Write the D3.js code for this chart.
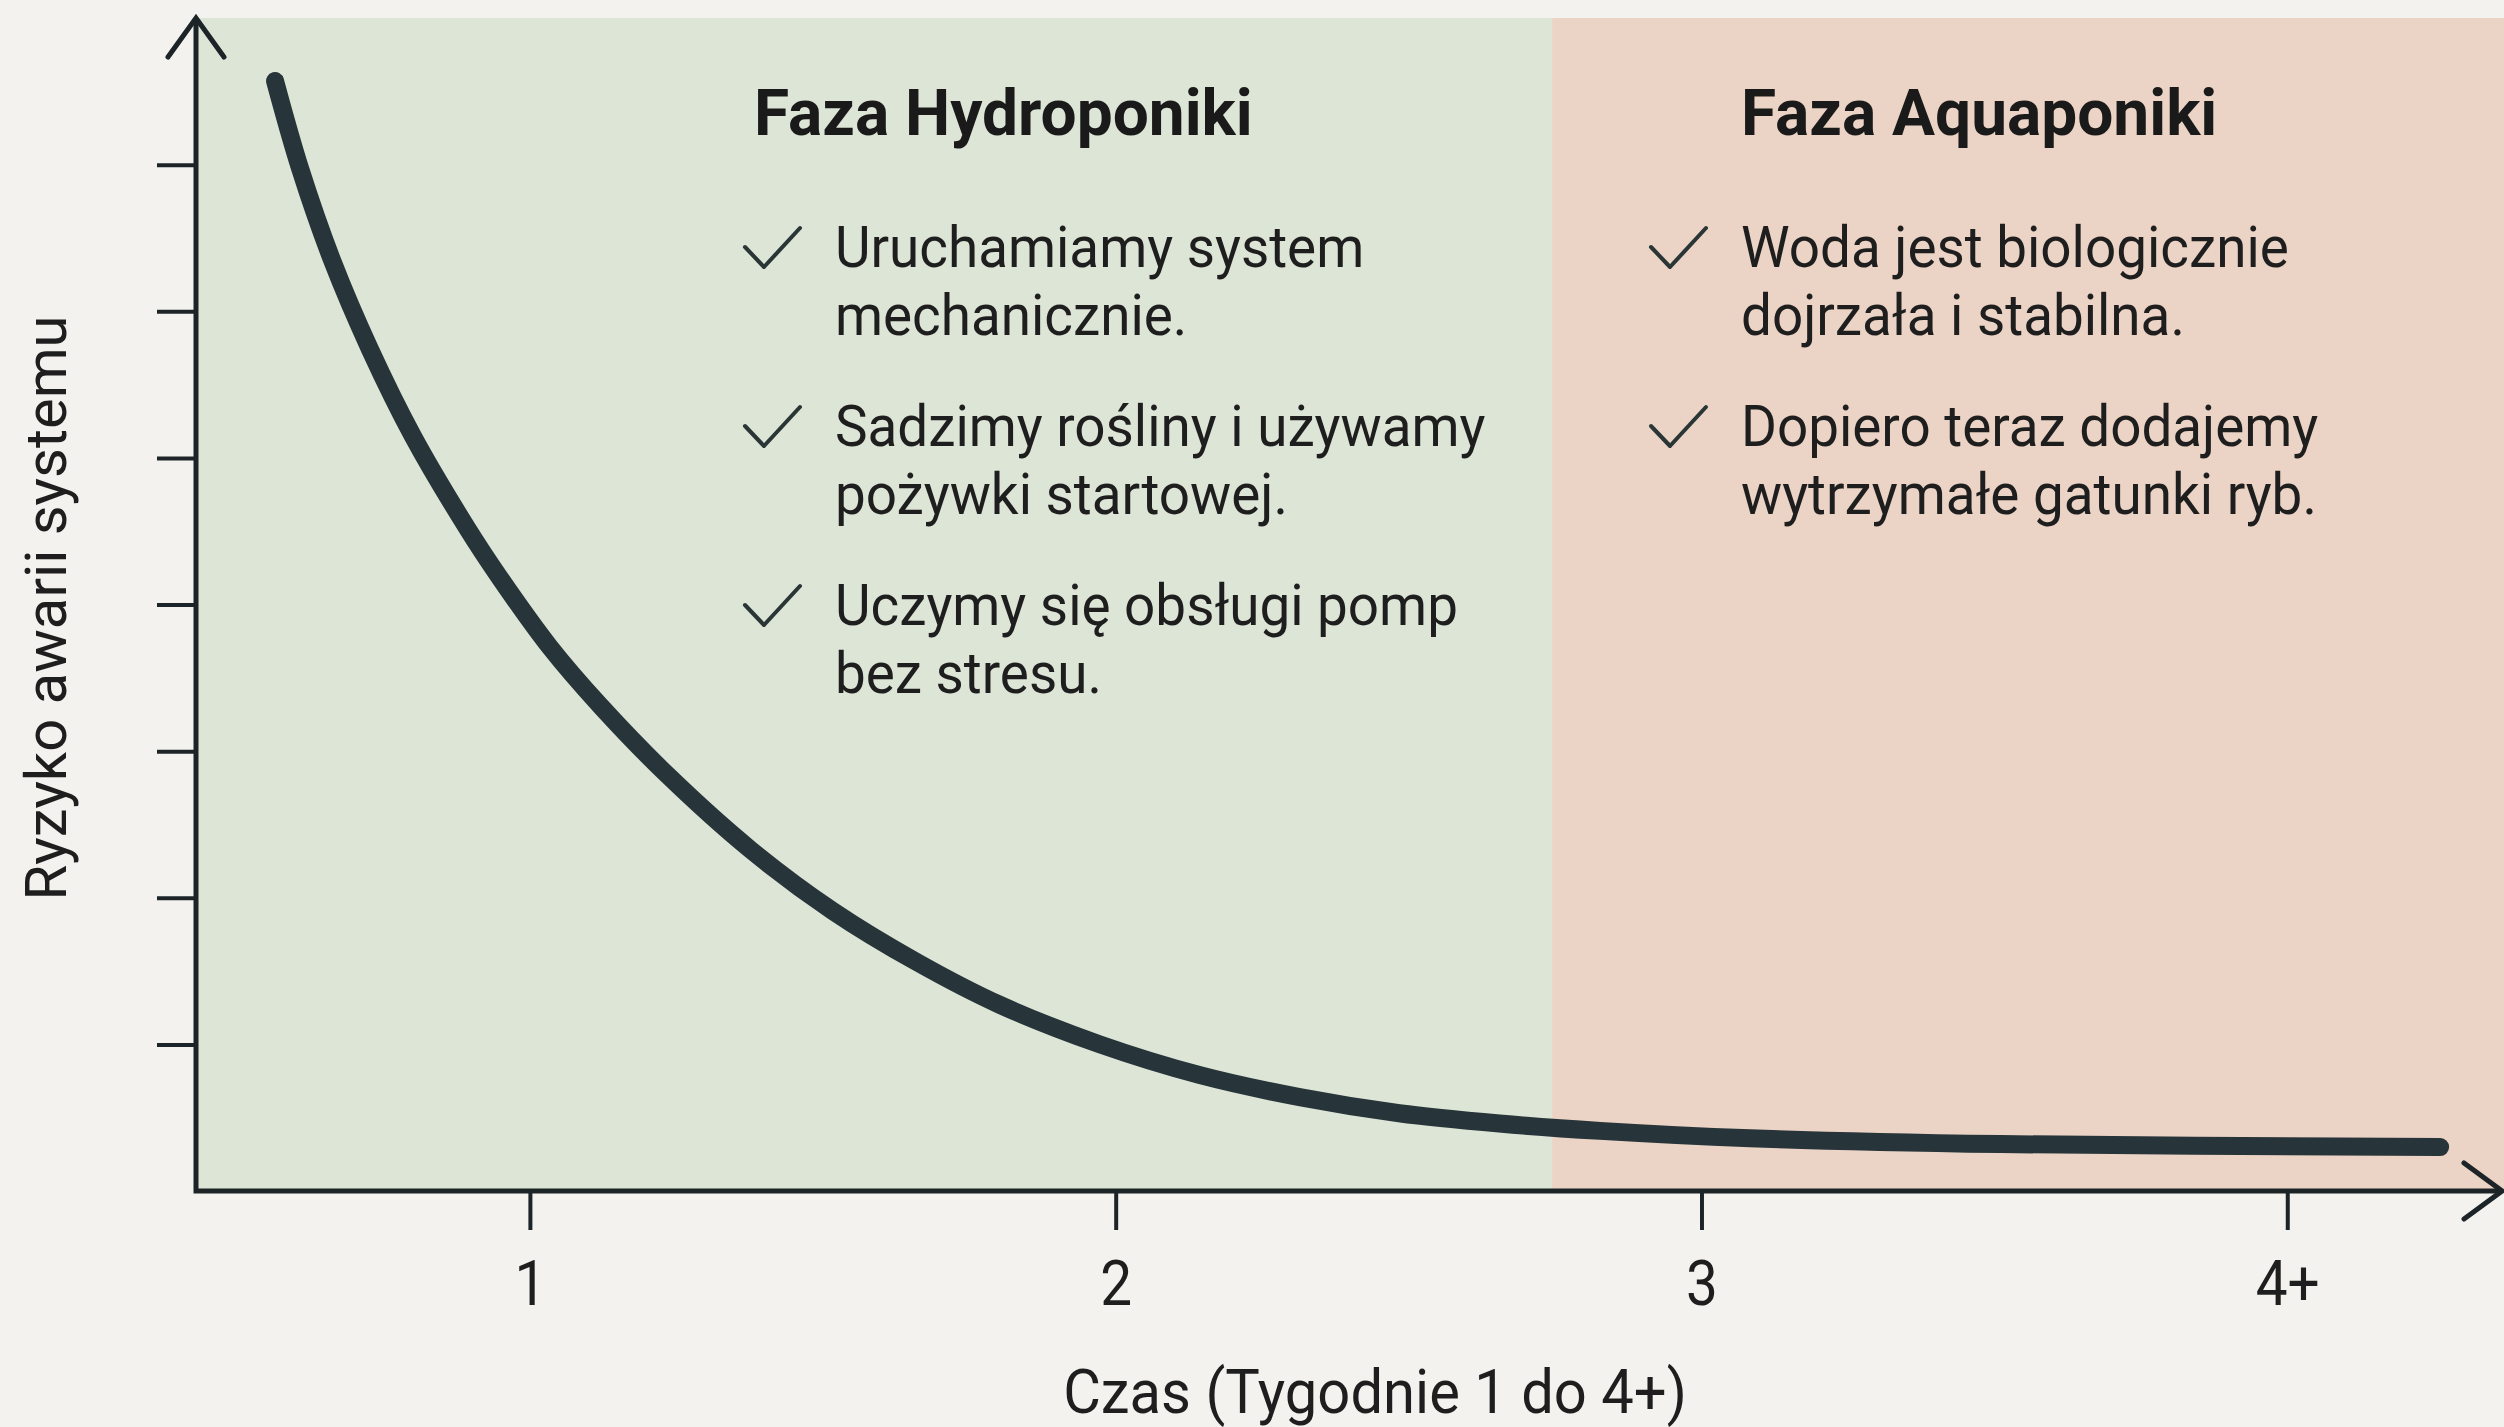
<!DOCTYPE html>
<html>
<head>
<meta charset="utf-8">
<script src="https://cdn.jsdelivr.net/npm/d3@7"></script>
<style>
  html, body { margin: 0; padding: 0; background: #f3f2ee; }
  svg { display: block; font-family: Roboto, "Noto Sans", sans-serif; }
</style>
</head>
<body>
<div id="chart"></div>
<script>
// Failure risk of a new system over the first weeks:
// hydroponic start-up phase, then the aquaponic phase once water is mature.

const weekTicks = [1, 2, 3, 4];
const weekLabels = ["1", "2", "3", "4+"];
const riskTicks = [1, 2, 3, 4, 5, 6, 7];

// curve (x in weeks, y in arbitrary risk units)
const curveWeeks = [0.565, 0.608, 0.664, 0.727, 0.800, 0.893, 0.949, 1.034, 1.120, 1.234, 1.376, 1.517,
                    1.661, 1.802, 1.973, 2.144, 2.314, 2.484, 2.655, 2.827, 3.083, 3.510, 4.261];
const curveRisk  = [7.57, 6.97, 6.33, 5.74, 5.15, 4.52, 4.18, 3.71, 3.31, 2.84, 2.33, 1.91,
                    1.56, 1.27, 1.00, 0.79, 0.64, 0.53, 0.46, 0.41, 0.36, 0.32, 0.30];

const phaseNames = ["Faza Hydroponiki", "Faza Aquaponiki"];
const phaseStart = [0.43, 2.745];
const phaseEnd   = [2.745, 4.37];
const phaseBullets = [
  [["Uruchamiamy system", "mechanicznie."],
   ["Sadzimy rośliny i używamy", "pożywki startowej."],
   ["Uczymy się obsługi pomp", "bez stresu."]],
  [["Woda jest biologicznie", "dojrzała i stabilna."],
   ["Dopiero teraz dodajemy", "wytrzymałe gatunki ryb."]]
];

const xTitle = "Czas (Tygodnie 1 do 4+)";
const yTitle = "Ryzyko awarii systemu";

// ---- layout ----
const width = 2504, height = 1427;
const phaseFill = ["#dde5d7", "#ebd3c5"];
const ink = "#1d2427";
const textInk = "#1e1e1e";
const lineInk = "#27343a";

// per-phase text anchors (heading x, check x, bullet text x)
const phaseText = [
  { head: 754, check: 745, text: 835 },
  { head: 1741, check: 1651, text: 1741 }
];
const headBaseline = 135;
const bulletBaseline0 = 267, bulletGap = 179, lineGap = 68;

const x = d3.scaleLinear().domain([0.43, 4.37]).range([196, 2504]);
const y = d3.scaleLinear().domain([0, 8]).range([1191, 18]);

const svg = d3.select("#chart").append("svg")
  .attr("width", width)
  .attr("height", height)
  .attr("viewBox", `0 0 ${width} ${height}`);

svg.append("rect").attr("width", width).attr("height", height).attr("fill", "#f3f2ee");

// phase panels
svg.selectAll(".phase")
  .data(phaseNames)
  .join("rect")
  .attr("class", "phase")
  .attr("x", (d, i) => x(phaseStart[i]))
  .attr("width", (d, i) => x(phaseEnd[i]) - x(phaseStart[i]))
  .attr("y", y(8))
  .attr("height", y(0) - y(8))
  .attr("fill", (d, i) => phaseFill[i]);

// phase headings + bullet lists
phaseNames.forEach((name, i) => {
  const pos = phaseText[i];
  svg.append("text")
    .attr("x", pos.head)
    .attr("y", headBaseline)
    .attr("font-size", 64)
    .attr("font-weight", 700)
    .attr("fill", "#1a1a1a")
    .text(name);

  phaseBullets[i].forEach((lines, j) => {
    const base = bulletBaseline0 + j * bulletGap;
    const cx = pos.check;
    svg.append("path")
      .attr("d", `M${cx},${base - 20} L${cx + 19},${base} L${cx + 55},${base - 39}`)
      .attr("fill", "none")
      .attr("stroke", "#2a3535")
      .attr("stroke-width", 4)
      .attr("stroke-linecap", "round")
      .attr("stroke-linejoin", "round");
    lines.forEach((ln, k) => {
      svg.append("text")
        .attr("transform", `translate(${pos.text},${base + k * lineGap}) scale(0.945,1)`)
        .attr("font-size", 58)
        .attr("fill", textInk)
        .text(ln);
    });
  });
});

// y ticks (no labels)
const yAxis = svg.append("g")
  .attr("transform", `translate(${x(0.43)},0)`)
  .call(d3.axisLeft(y).tickValues(riskTicks).tickSize(39).tickFormat(""));
yAxis.select(".domain").remove();
yAxis.selectAll(".tick line").attr("stroke", ink).attr("stroke-width", 4);

// x ticks
const xAxis = svg.append("g")
  .attr("transform", `translate(0,${y(0)})`)
  .call(d3.axisBottom(x).tickValues(weekTicks).tickSize(39).tickPadding(30)
    .tickFormat((d, i) => weekLabels[i]));
xAxis.select(".domain").remove();
xAxis.selectAll(".tick line").attr("stroke", ink).attr("stroke-width", 4);
xAxis.selectAll(".tick text")
  .attr("font-size", 63)
  .attr("font-family", "Roboto, 'Noto Sans', sans-serif")
  .attr("fill", textInk)
  .attr("transform", "scale(0.9,1)");

// axis lines with open arrow heads
const x0 = x(0.43), yb = y(0), yt = y(8), xr = 2502;
svg.append("path")
  .attr("d", `M${x0},${yt} V${yb} H${xr}`)
  .attr("fill", "none").attr("stroke", ink).attr("stroke-width", 5);
svg.append("path")
  .attr("d", `M${x0 - 28},${yt + 39} L${x0},${yt} L${x0 + 28},${yt + 39}`)
  .attr("fill", "none").attr("stroke", ink).attr("stroke-width", 5)
  .attr("stroke-linecap", "round");
svg.append("path")
  .attr("d", `M${xr - 38},${yb - 28} L${xr},${yb} L${xr - 38},${yb + 28}`)
  .attr("fill", "none").attr("stroke", ink).attr("stroke-width", 5)
  .attr("stroke-linecap", "round");

// risk curve
const line = d3.line()
  .x((d, i) => x(curveWeeks[i]))
  .y(d => y(d))
  .curve(d3.curveCatmullRom.alpha(0.5));
svg.append("path")
  .datum(curveRisk)
  .attr("d", line)
  .attr("fill", "none")
  .attr("stroke", lineInk)
  .attr("stroke-width", 18)
  .attr("stroke-linecap", "round");

// axis titles
svg.append("text")
  .attr("transform", `translate(1375,1413) scale(0.95,1)`)
  .attr("text-anchor", "middle")
  .attr("font-size", 61)
  .attr("fill", textInk)
  .text(xTitle);

svg.append("text")
  .attr("transform", `translate(66,608) rotate(-90)`)
  .attr("text-anchor", "middle")
  .attr("font-size", 58)
  .attr("fill", textInk)
  .text(yTitle);
</script>
</body>
</html>
